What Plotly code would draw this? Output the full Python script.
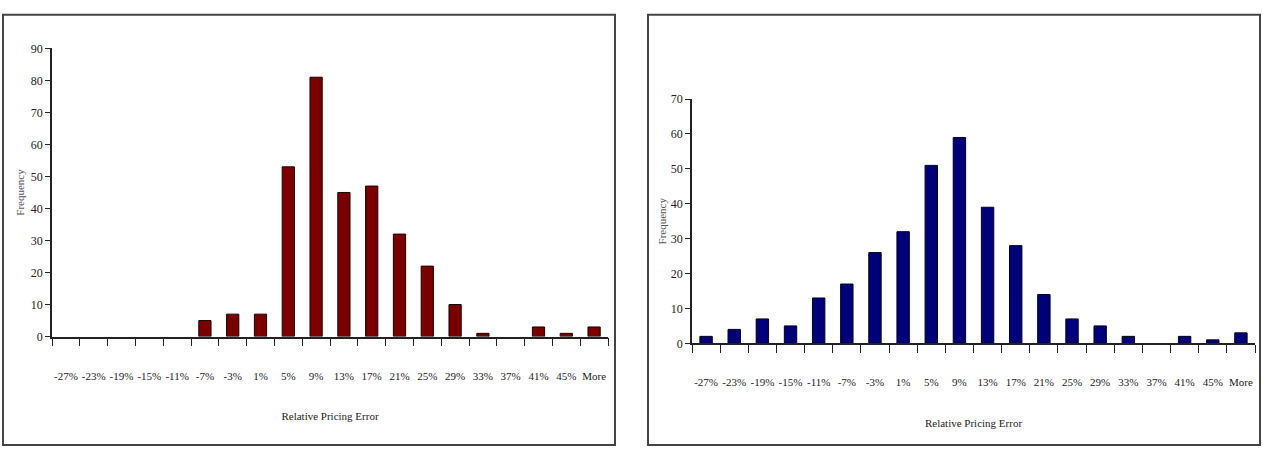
import plotly.graph_objects as go

categories = ["-27%", "-23%", "-19%", "-15%", "-11%", "-7%", "-3%", "1%", "5%", "9%",
              "13%", "17%", "21%", "25%", "29%", "33%", "37%", "41%", "45%", "More"]
left_values = [0, 0, 0, 0, 0, 5, 7, 7, 53, 81, 45, 47, 32, 22, 10, 1, 0, 3, 1, 3]
right_values = [2, 4, 7, 5, 13, 17, 26, 32, 51, 59, 39, 28, 14, 7, 5, 2, 0, 2, 1, 3]
left_yticks = [0, 10, 20, 30, 40, 50, 60, 70, 80, 90]
right_yticks = [0, 10, 20, 30, 40, 50, 60, 70]

W, H = 1263, 456
FONT = "Liberation Serif"

def outline_widths(vals):
    return [1 if v > 0 else 0 for v in vals]

fig = go.Figure()
fig.add_trace(go.Bar(x=categories, y=left_values,
                     marker=dict(color="#7a0000", line=dict(color="#1a0000", width=outline_widths(left_values))),
                     xaxis="x", yaxis="y", showlegend=False))
fig.add_trace(go.Bar(x=categories, y=right_values,
                     marker=dict(color="#000078", line=dict(color="#000020", width=outline_widths(right_values))),
                     xaxis="x2", yaxis="y2", showlegend=False))

axis_common = dict(showgrid=False, zeroline=False, showline=True, linecolor="#222", linewidth=1.5,
                   ticks="outside", tickcolor="#222")

xfont = dict(family=FONT, size=11, color="#222")
yfont = dict(family=FONT, size=12, color="#222")
tfont = dict(family=FONT, size=11, color="#222")
ffont = dict(family=FONT, size=11, color="#555")

fig.update_layout(
    width=W, height=H, margin=dict(l=0, r=0, t=0, b=0),
    paper_bgcolor="white", plot_bgcolor="white",
    bargap=0.56,
    xaxis=dict(domain=[52/W, 608/W], anchor="y", tickson="boundaries", ticklen=8, ticklabelstandoff=28,
               tickangle=0, tickfont=xfont,
               title=dict(text="Relative Pricing Error", font=tfont, standoff=32),
               **axis_common),
    yaxis=dict(domain=[(H-340)/H, (H-42.7)/H], anchor="x", range=[0, 90], tickvals=left_yticks, ticklen=5,
               tickfont=yfont,
               title=dict(text="Frequency", font=ffont, standoff=4),
               **axis_common),
    xaxis2=dict(domain=[692/W, 1255/W], anchor="y2", tickson="boundaries", ticklen=8, ticklabelstandoff=28,
                tickangle=0, tickfont=xfont,
                title=dict(text="Relative Pricing Error", font=tfont, standoff=32),
                **axis_common),
    yaxis2=dict(domain=[(H-347)/H, (H-95)/H], anchor="x2", range=[0, 70], tickvals=right_yticks, ticklen=5,
                tickfont=yfont,
                title=dict(text="Frequency", font=ffont, standoff=2),
                **axis_common),
    shapes=[
        dict(type="rect", xref="paper", yref="paper", x0=3/W, x1=615/W, y0=(H-452)/H, y1=(H-8)/H,
             line=dict(color="#444", width=2)),
        dict(type="rect", xref="paper", yref="paper", x0=648/W, x1=1260/W, y0=(H-452)/H, y1=(H-8)/H,
             line=dict(color="#444", width=2)),
    ],
)

fig.write_html("out.html")
